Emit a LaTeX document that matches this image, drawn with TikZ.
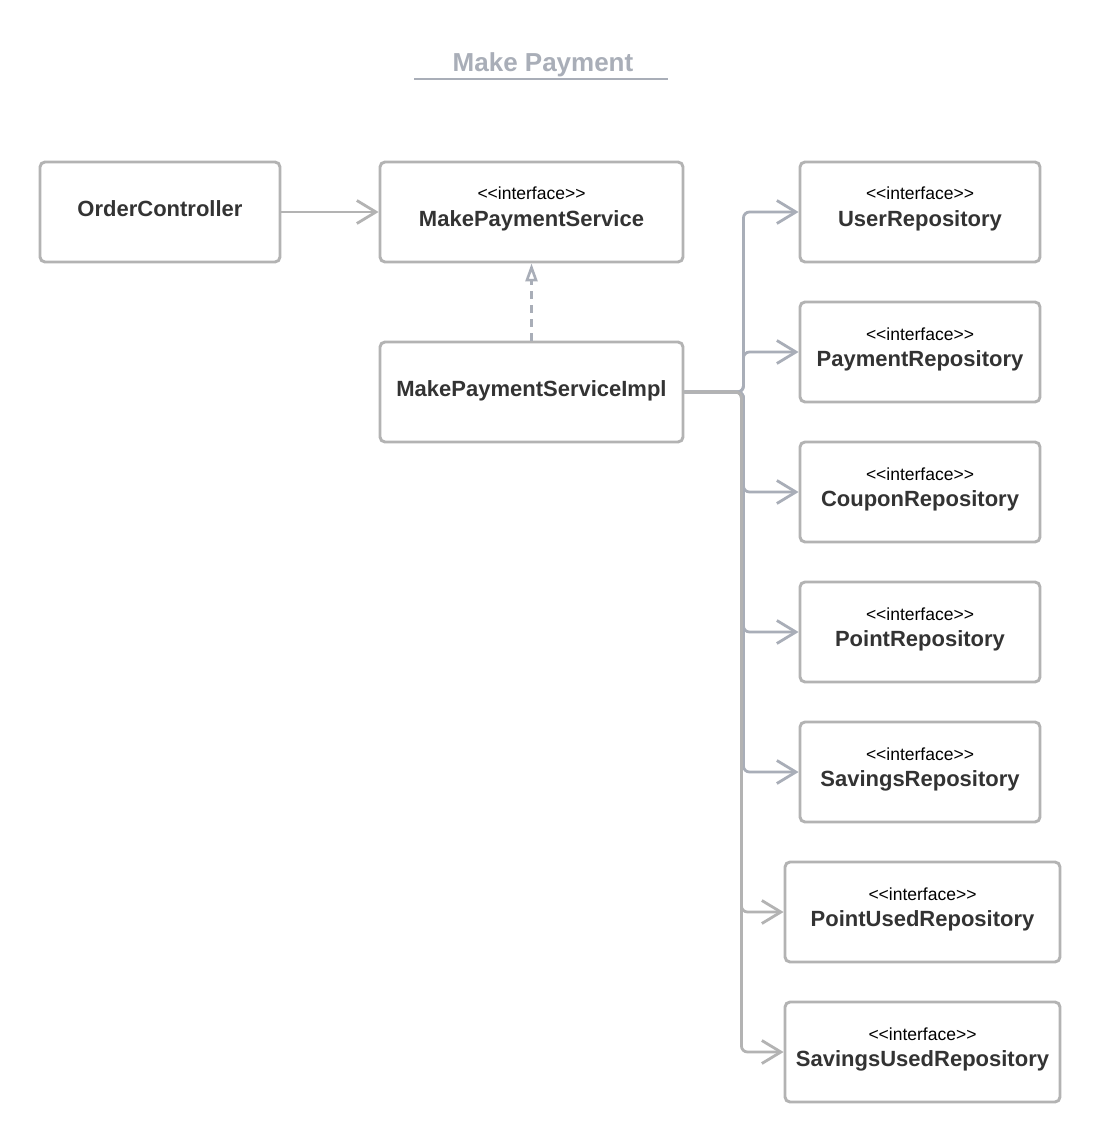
\documentclass[tikz,border=0pt]{standalone}
\usepackage{fontspec}
\setmainfont{Liberation Sans}
\usetikzlibrary{arrows.meta}
\definecolor{boxgray}{HTML}{B3B3B3}
\definecolor{blueg}{HTML}{A9AEB8}
\definecolor{txt}{HTML}{333333}
\newcommand{\ifc}{<\kern0pt<interface>\kern0pt>}
\begin{document}
\begin{tikzpicture}[x=1pt,y=-1pt,
  box/.style={draw=boxgray, line width=2.9pt, rounded corners=5pt, minimum width=#1, minimum height=100pt, inner sep=0pt, fill=white},
  box/.default=240pt,
  iface/.style={anchor=base, inner sep=0pt, font=\fontsize{17.5}{20}\selectfont, text=black},
  nm/.style={anchor=base, inner sep=0pt, font=\bfseries\fontsize{22}{26}\selectfont, text=txt},
  conn/.style={line width=2.8pt, rounded corners=6pt},
  barb/.style={-{Straight Barb[length=19pt,width=23pt,line width=2.8pt]}}
]
\fill[white] (0,0) rectangle (1100,1142);
\useasboundingbox (0,0) rectangle (1100,1142);

% title
\node[anchor=base, inner sep=0pt, font=\bfseries\fontsize{26}{30}\selectfont, text=blueg] (title) at (543,72) {Make Payment};
\draw[blueg, line width=2pt] (414,79) -- (668,79);

% left / middle boxes
\node[box] (oc) at (160,212) {};
\node[nm] (ocT) at (160,216) {OrderController};

\node[box=303pt] (svc) at (531.5,212) {};
\node[iface] (svcI) at (531.5,200) {\ifc};
\node[nm] (svcT) at (531.5,226) {MakePaymentService};

\node[box=303pt] (impl) at (531.5,392) {};
\node[nm] (implT) at (531.5,396) {MakePaymentServiceImpl};

% right boxes
\node[box] (user) at (920,212) {};
\node[iface] (userI) at (920,200) {\ifc};
\node[nm] (userT) at (920,226) {UserRepository};

\node[box] (pay) at (920,352) {};
\node[iface] (payI) at (920,340) {\ifc};
\node[nm] (payT) at (920,366) {PaymentRepository};

\node[box] (coup) at (920,492) {};
\node[iface] (coupI) at (920,480) {\ifc};
\node[nm] (coupT) at (920,506) {CouponRepository};

\node[box] (point) at (920,632) {};
\node[iface] (pointI) at (920,620) {\ifc};
\node[nm] (pointT) at (920,646) {PointRepository};

\node[box] (sav) at (920,772) {};
\node[iface] (savI) at (920,760) {\ifc};
\node[nm] (savT) at (920,786) {SavingsRepository};

\node[box=275pt] (pu) at (922.5,912) {};
\node[iface] (puI) at (922.5,900) {\ifc};
\node[nm] (puT) at (922.5,926) {PointUsedRepository};

\node[box=275pt] (su) at (922.5,1052) {};
\node[iface] (suI) at (922.5,1040) {\ifc};
\node[nm] (suT) at (922.5,1066) {SavingsUsedRepository};

% connectors
\draw[conn, boxgray, barb] (oc.east) -- (svc.west);
\draw[blueg, line width=2.8pt, dash pattern=on 8pt off 6pt,
  -{Triangle[open, length=18pt, width=12pt, line width=2.6pt]}] (impl.north) -- (svc.south);

\foreach \t in {user,pay,coup,point,sav}{
  \draw[conn, blueg, barb] (impl.east) -- ++(59,0) |- (\t.west);
}
\foreach \t in {pu,su}{
  \draw[conn, boxgray, barb] (impl.east) -- ++(57,0) |- (\t.west);
}
\end{tikzpicture}
\end{document}
